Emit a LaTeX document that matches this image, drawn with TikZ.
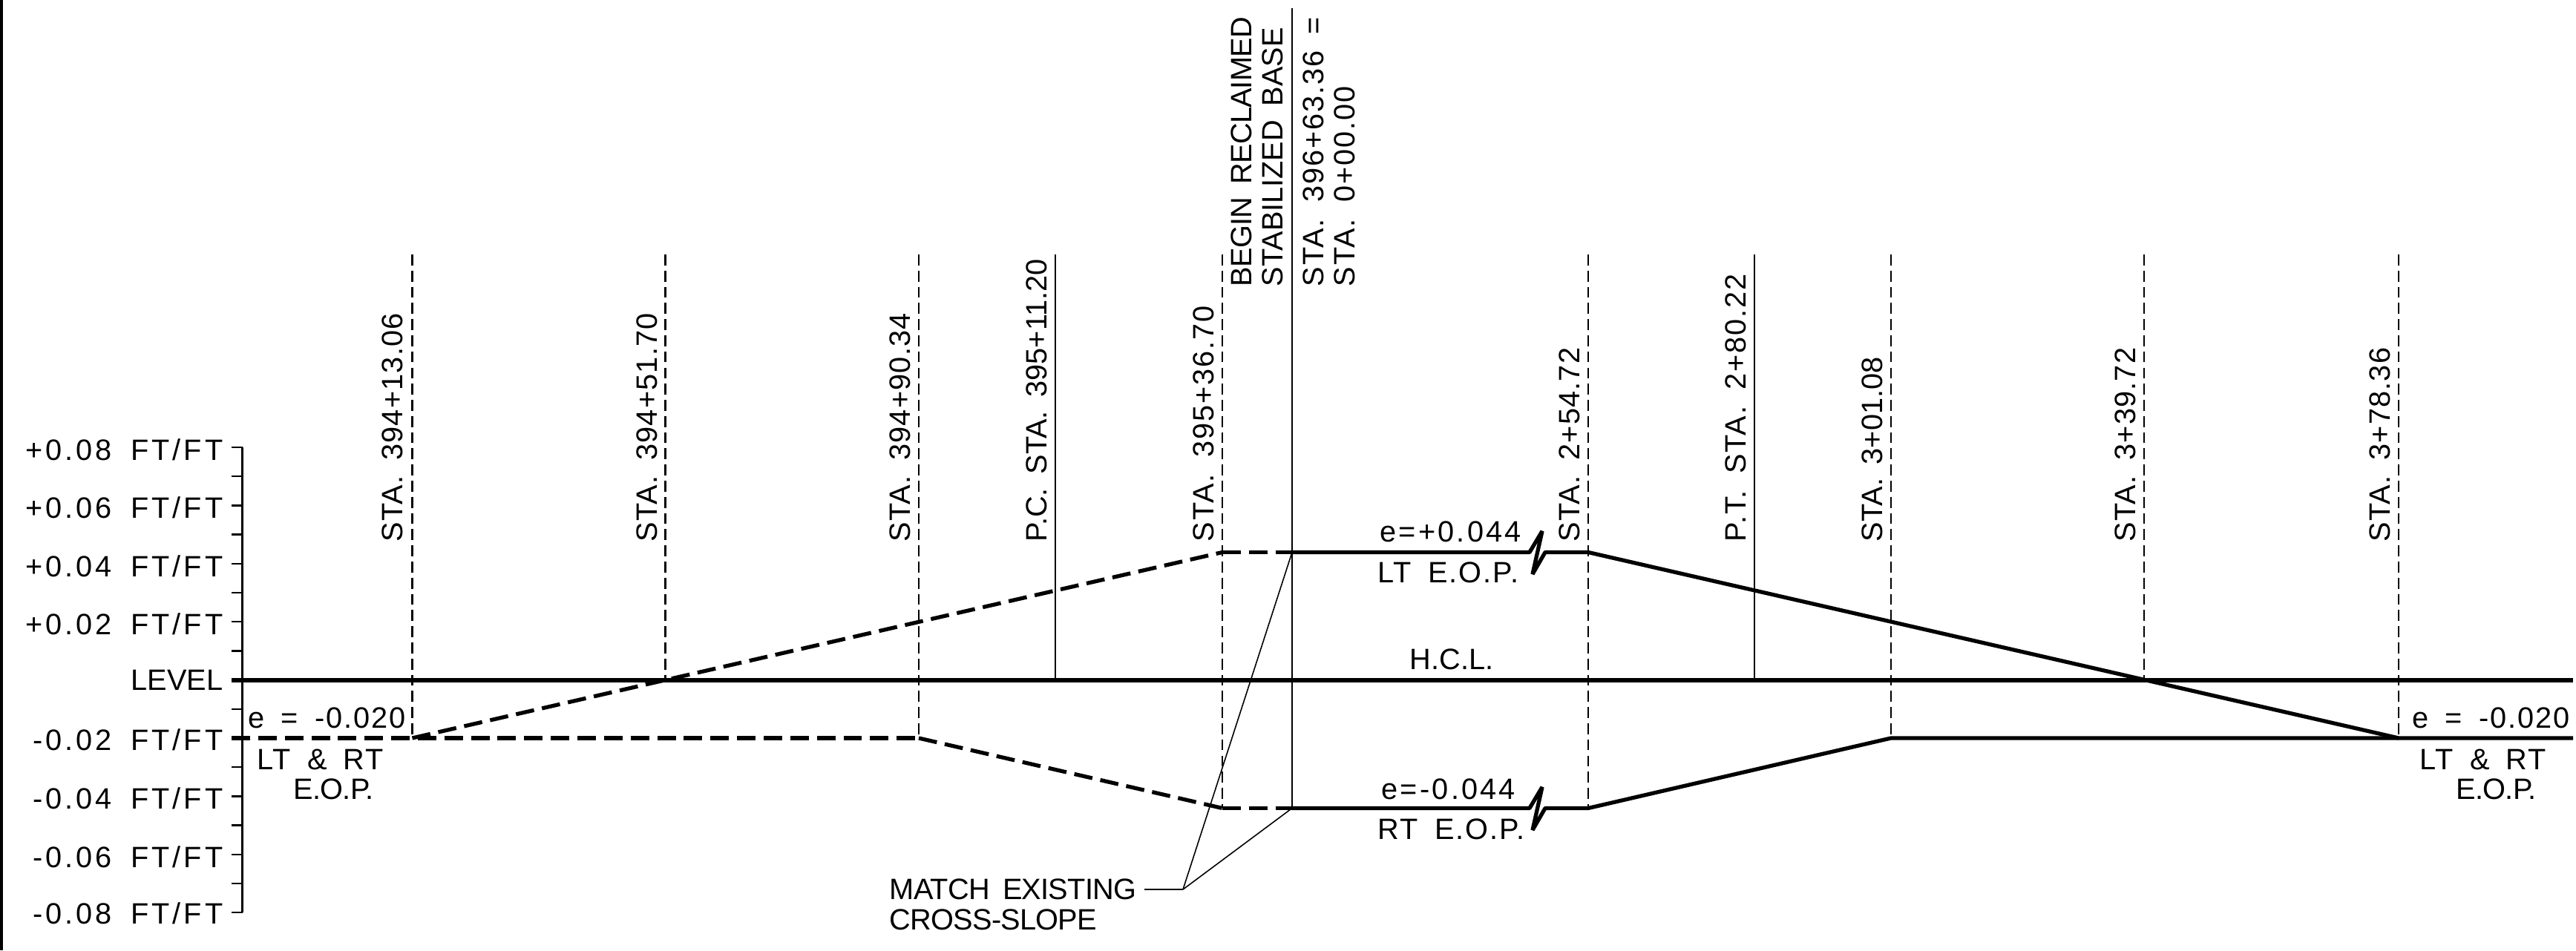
\documentclass[tikz,border=0pt]{standalone}
\usepackage{fontspec}
\setmainfont[LetterSpace=8,WordSpace=1.7]{Liberation Sans}
\newfontfamily\wideletters[LetterSpace=10,WordSpace=1.7]{Liberation Sans}
\newfontfamily\midfont[LetterSpace=5,WordSpace=1.7]{Liberation Sans}
\newfontfamily\stafont[LetterSpace=3,WordSpace=1.7]{Liberation Sans}
\newfontfamily\tightfont[WordSpace=1.7]{Liberation Sans}
\newfontfamily\narrowletters[LetterSpace=-2,WordSpace=1.7]{Liberation Sans}
\pgfdeclarelayer{bg}
\pgfsetlayers{bg,main}
\tikzset{
        txt/.style={inner sep=0pt,font=\fontsize{11.3}{13}\selectfont},
        mid/.style={font=\midfont\fontsize{11.3}{13}\selectfont},
        tight/.style={font=\tightfont\fontsize{11.3}{13}\selectfont},
        narrow/.style={font=\narrowletters\fontsize{11.3}{13}\selectfont},
        lbl/.style={txt,anchor=base west},
        ylbl/.style={txt,anchor=base east,font=\wideletters\fontsize{11.3}{13}\selectfont},
        sta/.style={txt,anchor=base west,rotate=90,font=\stafont\fontsize{11.3}{13}\selectfont},
        hair/.style={line width=0.45pt},
        stem/.style={line width=0.65pt},
        guide/.style={line width=0.6pt,dash pattern=on 4.2pt off 2pt},
        grade/.style={line width=1.5pt,line join=bevel},
        gradedash/.style={line width=1.5pt,dash pattern=on 7.1pt off 3.1pt},
}
\begin{document}
\begin{tikzpicture}
        \useasboundingbox (0cm, 0cm) rectangle (34.71cm, 12.81cm);
        % sheet edge
        \coordinate (e0) at (0cm, 12.81cm);
        \coordinate (e1) at (0cm, 0cm);
        % slope scale
        \coordinate (a0) at (3.265cm, 6.780cm);
        \coordinate (a1) at (3.265cm, 6.388cm);
        \coordinate (a2) at (3.265cm, 5.996cm);
        \coordinate (a3) at (3.265cm, 5.604cm);
        \coordinate (a4) at (3.265cm, 5.212cm);
        \coordinate (a5) at (3.265cm, 4.820cm);
        \coordinate (a6) at (3.265cm, 4.428cm);
        \coordinate (a7) at (3.265cm, 4.036cm);
        \coordinate (a8) at (3.265cm, 3.640cm);
        \coordinate (a9) at (3.265cm, 3.252cm);
        \coordinate (a10) at (3.265cm, 2.860cm);
        \coordinate (a11) at (3.265cm, 2.468cm);
        \coordinate (a12) at (3.265cm, 2.076cm);
        \coordinate (a13) at (3.265cm, 1.684cm);
        \coordinate (a14) at (3.265cm, 1.292cm);
        \coordinate (a15) at (3.265cm, 0.900cm);
        \coordinate (a16) at (3.265cm, 0.508cm);
        \node (y0) [ylbl] at (3.010cm, 6.600cm) {+0.08 FT/FT};
        \node (y1) [ylbl] at (3.010cm, 5.820cm) {+0.06 FT/FT};
        \node (y2) [ylbl] at (3.010cm, 5.030cm) {+0.04 FT/FT};
        \node (y3) [ylbl] at (3.010cm, 4.250cm) {+0.02 FT/FT};
        \node (y4) [ylbl,tight] at (3.010cm, 3.500cm) {LEVEL};
        \node (y5) [ylbl] at (3.010cm, 2.690cm) {-0.02 FT/FT};
        \node (y6) [ylbl] at (3.010cm, 1.900cm) {-0.04 FT/FT};
        \node (y7) [ylbl] at (3.010cm, 1.120cm) {-0.06 FT/FT};
        \node (y8) [ylbl] at (3.010cm, 0.360cm) {-0.08 FT/FT};
        % points of the two grade lines
        \coordinate (h0) at (3.120cm, 3.640cm);
        \coordinate (h1) at (34.670cm, 3.640cm);
        \coordinate (u0) at (5.555cm, 2.860cm);
        \coordinate (u1) at (16.470cm, 5.365cm);
        \coordinate (u2) at (17.410cm, 5.365cm);
        \coordinate (u3) at (20.610cm, 5.365cm);
        \coordinate (u4) at (20.780cm, 5.650cm);
        \coordinate (u5) at (20.650cm, 5.070cm);
        \coordinate (u6) at (20.820cm, 5.365cm);
        \coordinate (u7) at (21.400cm, 5.365cm);
        \coordinate (p0) at (3.120cm, 2.860cm);
        \coordinate (p1) at (12.380cm, 2.860cm);
        \coordinate (p2) at (16.470cm, 1.915cm);
        \coordinate (p3) at (17.410cm, 1.915cm);
        \coordinate (p4) at (20.610cm, 1.915cm);
        \coordinate (p5) at (20.780cm, 2.200cm);
        \coordinate (p6) at (20.650cm, 1.620cm);
        \coordinate (p7) at (20.820cm, 1.915cm);
        \coordinate (p8) at (21.400cm, 1.915cm);
        \coordinate (q0) at (25.480cm, 2.860cm);
        \coordinate (q1) at (32.320cm, 2.860cm);
        \coordinate (q2) at (34.670cm, 2.860cm);
        % station lines
        \coordinate (s0) at (5.555cm, 9.380cm);
        \coordinate (s1) at (8.965cm, 9.380cm);
        \coordinate (s2) at (12.380cm, 9.380cm);
        \coordinate (s3) at (14.220cm, 9.380cm);
        \coordinate (s4) at (16.470cm, 9.380cm);
        \coordinate (s5) at (17.410cm, 12.700cm);
        \coordinate (s6) at (21.400cm, 9.380cm);
        \coordinate (s7) at (23.640cm, 9.380cm);
        \coordinate (s8) at (25.480cm, 9.380cm);
        \coordinate (s9) at (28.890cm, 9.380cm);
        \coordinate (s10) at (32.320cm, 9.380cm);
        \coordinate (f1) at (8.965cm, 3.640cm);
        \coordinate (f3) at (14.220cm, 3.640cm);
        \coordinate (f7) at (23.640cm, 3.640cm);
        \coordinate (f9) at (28.890cm, 3.640cm);
        % leader
        \coordinate (m0) at (15.420cm, 0.820cm);
        \coordinate (m1) at (15.940cm, 0.820cm);
        \node (t0) [sta] at (5.425cm, 5.500cm) {STA. 394+13.06};
        \node (t1) [sta] at (8.850cm, 5.500cm) {STA. 394+51.70};
        \node (t2) [sta] at (12.260cm, 5.500cm) {STA. 394+90.34};
        \node (t3) [sta,tight] at (14.105cm, 5.500cm) {P.C. STA. 395+11.20};
        \node (t4) [sta,mid] at (16.350cm, 5.500cm) {STA. 395+36.70};
        \node (t5) [sta] at (21.280cm, 5.500cm) {STA. 2+54.72};
        \node (t6) [sta,mid] at (23.520cm, 5.500cm) {P.T. STA. 2+80.22};
        \node (t7) [sta,tight] at (25.360cm, 5.500cm) {STA. 3+01.08};
        \node (t8) [sta] at (28.770cm, 5.500cm) {STA. 3+39.72};
        \node (t9) [sta] at (32.200cm, 5.500cm) {STA. 3+78.36};
        \node (t10) [sta,narrow] at (16.860cm, 8.940cm) {BEGIN RECLAIMED};
        \node (t11) [sta,tight] at (17.280cm, 8.940cm) {STABILIZED BASE};
        \node (t12) [sta,mid] at (17.830cm, 8.940cm) {STA. 396+63.36 =};
        \node (t13) [sta,mid] at (18.250cm, 8.940cm) {STA. 0+00.00};
        \node (n0) [lbl,mid] at (3.340cm, 2.990cm) {e = -0.020};
        \node (n1) [lbl,mid] at (3.460cm, 2.430cm) {LT \& RT};
        \node (n2) [lbl,narrow] at (3.950cm, 2.030cm) {E.O.P.};
        \node (n3) [lbl,mid] at (32.500cm, 2.990cm) {e = -0.020};
        \node (n4) [lbl,mid] at (32.600cm, 2.430cm) {LT \& RT};
        \node (n5) [lbl,narrow] at (33.090cm, 2.030cm) {E.O.P.};
        \node (n6) [lbl] at (18.590cm, 5.500cm) {e=+0.044};
        \node (n7) [lbl,mid] at (18.560cm, 4.950cm) {LT E.O.P.};
        \node (n8) [lbl] at (18.610cm, 2.040cm) {e=-0.044};
        \node (n9) [lbl,mid] at (18.560cm, 1.495cm) {RT E.O.P.};
        \node (n10) [lbl,tight] at (18.990cm, 3.780cm) {H.C.L.};
        \node (n11) [lbl,narrow] at (11.980cm, 0.680cm) {MATCH EXISTING};
        \node (n12) [lbl,narrow] at (11.980cm, 0.270cm) {CROSS-SLOPE};
        \begin{pgfonlayer}{bg}
                \draw (e0) edge [line width=2pt] (e1);
                \draw (a0) edge [stem] (a16);
                \draw (a0) edge [stem] ++(-0.145cm, 0cm);
                \draw (a1) edge [stem] ++(-0.145cm, 0cm);
                \draw (a2) edge [stem] ++(-0.145cm, 0cm);
                \draw (a3) edge [stem] ++(-0.145cm, 0cm);
                \draw (a4) edge [stem] ++(-0.145cm, 0cm);
                \draw (a5) edge [stem] ++(-0.145cm, 0cm);
                \draw (a6) edge [stem] ++(-0.145cm, 0cm);
                \draw (a7) edge [stem] ++(-0.145cm, 0cm);
                \draw (a9) edge [stem] ++(-0.145cm, 0cm);
                \draw (a11) edge [stem] ++(-0.145cm, 0cm);
                \draw (a12) edge [stem] ++(-0.145cm, 0cm);
                \draw (a13) edge [stem] ++(-0.145cm, 0cm);
                \draw (a14) edge [stem] ++(-0.145cm, 0cm);
                \draw (a15) edge [stem] ++(-0.145cm, 0cm);
                \draw (a16) edge [stem] ++(-0.145cm, 0cm);
                \draw (h0) edge [grade] (h1);
                \draw (s0) edge [guide] (u0);
                \draw (s1) edge [guide] (f1);
                \draw (s2) edge [guide] (p1);
                \draw (s3) edge [stem] (f3);
                \draw (s4) edge [guide] (p2);
                \draw (s5) edge [stem] (p3);
                \draw (s6) edge [guide] (p8);
                \draw (s7) edge [stem] (f7);
                \draw (s8) edge [guide] (q0);
                \draw (s9) edge [guide] (f9);
                \draw (s10) edge [guide] (q1);
                \draw (u0) edge [gradedash] (u1);
                \draw (u1) edge [gradedash] (u2);
                \draw [grade] (u2) -- (u3) -- (u4) -- (u5) -- (u6) -- (u7) -- (q1) -- (q2);
                \draw (p0) edge [gradedash] (p1);
                \draw (p1) edge [gradedash] (p2);
                \draw (p2) edge [gradedash] (p3);
                \draw [grade] (p3) -- (p4) -- (p5) -- (p6) -- (p7) -- (p8) -- (q0) -- (q1);
                \draw (m0) edge [hair] (m1);
                \draw (m1) edge [hair] (u2);
                \draw (m1) edge [hair] (p3);
        \end{pgfonlayer}
\end{tikzpicture}
\end{document}
